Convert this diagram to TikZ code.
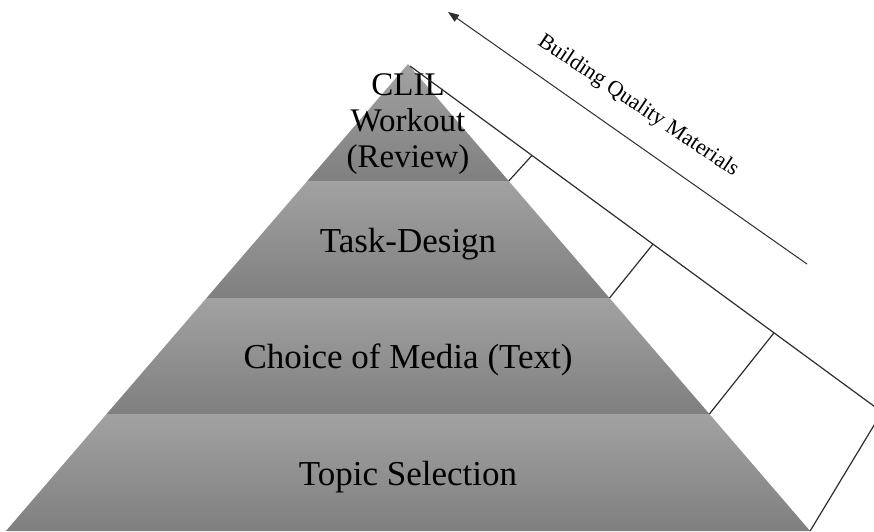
\documentclass[tikz,border=0pt]{standalone}
\usepackage{fontspec}
\setmainfont{Liberation Serif}
\usetikzlibrary{arrows.meta}
\definecolor{bandtop}{HTML}{A2A2A2}
\definecolor{bandbot}{HTML}{7F7F7F}
\definecolor{linegray}{HTML}{2E2E2E}
\begin{document}
\begin{tikzpicture}[x=1pt,y=-1pt,
  band/.style={top color=bandtop,bottom color=bandbot,draw=none},
  lbl/.style={font=\fontsize{35}{40}\selectfont,text=black,inner sep=0pt},
  toplbl/.style={font=\fontsize{33}{36}\selectfont,text=black,inner sep=0pt,align=center},
  frame/.style={draw=linegray,line width=1.2pt},
  arrowline/.style={draw=linegray,line width=1pt,-{Triangle[length=11pt,width=8pt]}},
  sidelbl/.style={font=\fontsize{22}{24}\selectfont,text=black,inner sep=0pt,rotate=-34}
]
\useasboundingbox (0,0) rectangle (874,531);
\clip (0,0) rectangle (874,531);
\fill[white] (0,0) rectangle (874,531);

% pyramid corner points
\coordinate (apex) at (408,64);
\coordinate (l1) at (307.3,181); \coordinate (r1) at (508.7,181);
\coordinate (l2) at (206.5,298); \coordinate (r2) at (609.5,298);
\coordinate (l3) at (106.6,414); \coordinate (r3) at (709.4,414);
\coordinate (l4) at (5.9,531);   \coordinate (r4) at (810.1,531);

% bands
\path[band] (apex) -- (r1) -- (l1) -- cycle;
\path[band] (l1) -- (r1) -- (r2) -- (l2) -- cycle;
\path[band] (l2) -- (r2) -- (r3) -- (l3) -- cycle;
\path[band] (l3) -- (r3) -- (r4) -- (l4) -- cycle;

% labels
\node[toplbl] (clil) at (408,124.5) {CLIL\\Workout\\(Review)};
\node[lbl,anchor=base] (task) at (408,252) {Task-Design};
\node[lbl,anchor=base] (media) at (408,368) {Choice of Media (Text)};
\node[lbl,anchor=base] (topic) at (408,485) {Topic Selection};

% side frame
\coordinate (lstart) at (410,66);
\coordinate (lend) at (882,412);
\coordinate (q1) at (532,155.4);
\coordinate (q2) at (653,244.1);
\coordinate (q3) at (774,332.8);
\draw[frame] (lstart) -- (lend);
\draw[frame] (r1) -- (q1);
\draw[frame] (r2) -- (q2);
\draw[frame] (r3) -- (q3);
\draw[frame] (r4) -- (lend);

% arrow
\coordinate (atail) at (807,264);
\coordinate (ahead) at (448,12);
\draw[arrowline] (atail) -- (ahead);
\node[sidelbl] (bqm) at (638,106) {Building Quality Materials};
\end{tikzpicture}
\end{document}
